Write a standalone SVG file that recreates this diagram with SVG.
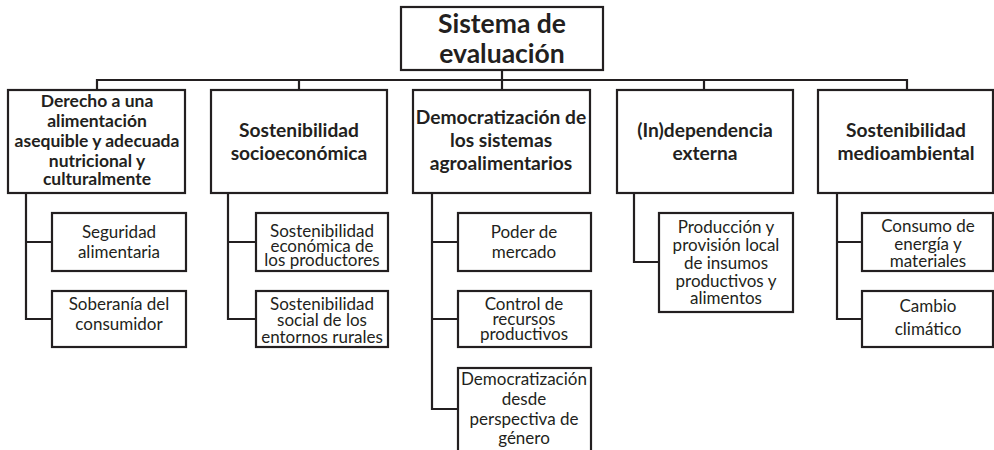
<svg xmlns="http://www.w3.org/2000/svg" width="994" height="450" viewBox="0 0 994 450">
<style>
.box{fill:#fff;stroke:#231f20;stroke-width:2.2}
.con{fill:none;stroke:#231f20;stroke-width:2.2}
text{font-family:Lato,"Liberation Sans",sans-serif;fill:#231f20;text-anchor:middle}
.root{font-size:26.5px;font-weight:bold}
.l1{font-size:19.2px;font-weight:bold}
.l1s{font-size:17.5px;font-weight:bold}
.l2{font-size:17px}
</style>
<rect width="994" height="450" fill="#fff"/>
<g id="connectors">
<path class="con" d="M502 70V90M97 90V80H907V90M299 80V90M704 80V90"/>
<path class="con" d="M26 193V319H52M26 242H52"/>
<path class="con" d="M228 193V319H256M228 242H256"/>
<path class="con" d="M432 193V409H458M432 242H458M432 319H458"/>
<path class="con" d="M634 193V262H659"/>
<path class="con" d="M837 193V319H862M837 242H862"/>
</g>
<g id="root">
<rect class="box" x="401" y="7" width="202" height="63"/>
<text class="root" x="502" y="33">Sistema de</text>
<text class="root" x="502" y="63">evaluación</text>
</g>
<g id="n1">
<rect class="box" x="8" y="90" width="177" height="103"/>
<text class="l1s" x="97" y="107">Derecho a una</text>
<text class="l1s" x="97" y="127">alimentación</text>
<text class="l1s" x="97" y="147">asequible y adecuada</text>
<text class="l1s" x="97" y="167">nutricional y</text>
<text class="l1s" x="97" y="185">culturalmente</text>
</g>
<g id="n2">
<rect class="box" x="211" y="90" width="176" height="103"/>
<text class="l1" x="299" y="137">Sostenibilidad</text>
<text class="l1" x="299" y="160">socioeconómica</text>
</g>
<g id="n3">
<rect class="box" x="413" y="90" width="177" height="103"/>
<text class="l1" x="501" y="124">Democratización de</text>
<text class="l1" x="501" y="147">los sistemas</text>
<text class="l1" x="501" y="170">agroalimentarios</text>
</g>
<g id="n4">
<rect class="box" x="617" y="90" width="176" height="103"/>
<text class="l1" x="705" y="137">(In)dependencia</text>
<text class="l1" x="705" y="160">externa</text>
</g>
<g id="n5">
<rect class="box" x="818" y="90" width="175" height="103"/>
<text class="l1" x="906" y="137">Sostenibilidad</text>
<text class="l1" x="906" y="160">medioambiental</text>
</g>
<g id="n1a">
<rect class="box" x="52" y="213" width="134" height="58"/>
<text class="l2" x="119" y="238">Seguridad</text>
<text class="l2" x="119" y="258">alimentaria</text>
</g>
<g id="n1b">
<rect class="box" x="52" y="291" width="134" height="56"/>
<text class="l2" x="119" y="310">Soberanía del</text>
<text class="l2" x="119" y="330">consumidor</text>
</g>
<g id="n2a">
<rect class="box" x="256" y="213" width="132" height="58"/>
<text class="l2" x="322" y="237">Sostenibilidad</text>
<text class="l2" x="322" y="252">económica de</text>
<text class="l2" x="322" y="266">los productores</text>
</g>
<g id="n2b">
<rect class="box" x="256" y="291" width="132" height="56"/>
<text class="l2" x="322" y="310">Sostenibilidad</text>
<text class="l2" x="322" y="326">social de los</text>
<text class="l2" x="322" y="343">entornos rurales</text>
</g>
<g id="n3a">
<rect class="box" x="458" y="213" width="133" height="58"/>
<text class="l2" x="524" y="238">Poder de</text>
<text class="l2" x="524" y="258">mercado</text>
</g>
<g id="n3b">
<rect class="box" x="458" y="291" width="133" height="56"/>
<text class="l2" x="524" y="310">Control de</text>
<text class="l2" x="524" y="325">recursos</text>
<text class="l2" x="524" y="340">productivos</text>
</g>
<g id="n3c">
<rect class="box" x="458" y="368" width="133" height="95"/>
<text class="l2" x="524" y="385">Democratización</text>
<text class="l2" x="524" y="405">desde</text>
<text class="l2" x="524" y="425">perspectiva de</text>
<text class="l2" x="524" y="444">género</text>
</g>
<g id="n4a">
<rect class="box" x="659" y="213" width="134" height="99"/>
<text class="l2" x="726" y="233">Producción y</text>
<text class="l2" x="726" y="251">provisión local</text>
<text class="l2" x="726" y="269">de insumos</text>
<text class="l2" x="726" y="287">productivos y</text>
<text class="l2" x="726" y="304">alimentos</text>
</g>
<g id="n5a">
<rect class="box" x="862" y="213" width="131" height="58"/>
<text class="l2" x="928" y="232">Consumo de</text>
<text class="l2" x="928" y="250">energía y</text>
<text class="l2" x="928" y="267">materiales</text>
</g>
<g id="n5b">
<rect class="box" x="862" y="291" width="131" height="56"/>
<text class="l2" x="928" y="312">Cambio</text>
<text class="l2" x="928" y="335">climático</text>
</g>
</svg>
